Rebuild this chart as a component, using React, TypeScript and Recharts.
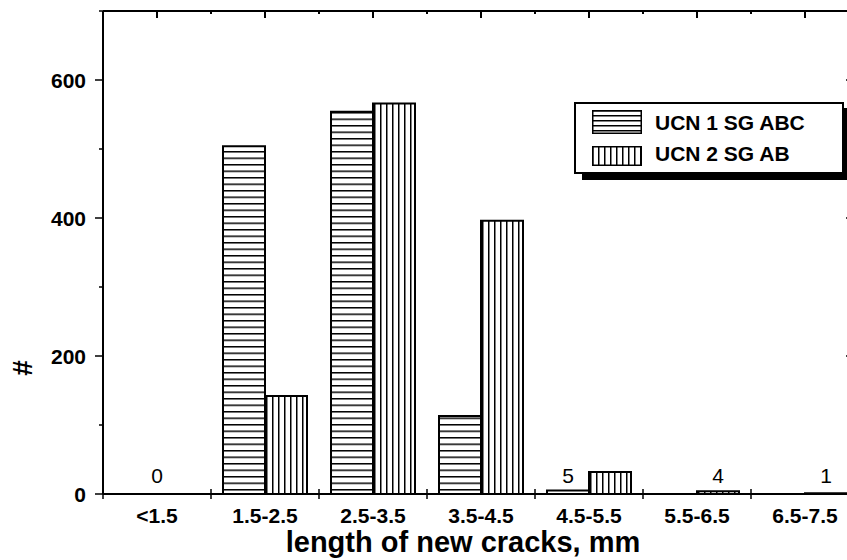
import React from "react";
import { BarChart, Bar, XAxis, YAxis, Legend, LabelList, Label } from "recharts";

const categories = ["<1.5", "1.5-2.5", "2.5-3.5", "3.5-4.5", "4.5-5.5", "5.5-6.5", "6.5-7.5"];
const ucn1Counts = [0, 504, 554, 113, 5, 0, 0];
const ucn2Counts = [0, 142, 566, 396, 32, 4, 1];
const groupNotes = ["0", "", "", "", "", "", ""];
const ucn1Notes = ["", "", "", "", "5", "", ""];
const ucn2Notes = ["", "", "", "", "", "4", "1"];
const seriesNames = ["UCN 1 SG ABC", "UCN 2 SG AB"];
const yTicks = [0, 100, 200, 300, 400, 500, 600, 700];
const yLabelTicks = [0, 200, 400, 600];
const xTitle = "length of new cracks, mm";
const yTitle = "#";

const data = categories.map((range, i) => ({
  range,
  ucn1: ucn1Counts[i],
  ucn2: ucn2Counts[i],
  n1: ucn1Notes[i],
  n2: ucn2Notes[i],
}));

const FONT = "'Liberation Sans', Arial, Helvetica, sans-serif";
const BLACK = "#000";

// layout constants
const CHART_W = 861;
const CHART_H = 552;
const MARGIN_TOP = 3;
const RIGHT_AXIS_W = 10;
const PLOT_TOP = MARGIN_TOP;
const PLOT_RIGHT = CHART_W - RIGHT_AXIS_W;

const bandHalf = (p: any) =>
  typeof p.payload.offset === "number" && p.payload.offset > 0 ? p.payload.offset : p.width / (2 * categories.length);

const LeftTick = (p: any) => {
  const v = p.payload.value;
  const major = yLabelTicks.includes(v);
  return (
    <g>
      <line x1={p.x - (major ? 8 : 4)} x2={p.x} y1={p.y} y2={p.y} stroke={BLACK} strokeWidth={1.5} />
      {major && <line x1={PLOT_RIGHT - 13} x2={PLOT_RIGHT} y1={p.y} y2={p.y} stroke={BLACK} strokeWidth={1.5} />}
      {major && (
        <text x={p.x - 17} y={p.y} dy="0.36em" textAnchor="end" fontFamily={FONT} fontWeight="bold" fontSize={21} fill={BLACK}>
          {v}
        </text>
      )}
    </g>
  );
};

const CatTick = (p: any) => {
  const idx = categories.indexOf(p.payload.value);
  const off = bandHalf(p);
  const axisY = p.y;
  const isLast = idx === categories.length - 1;
  return (
    <g>
      <line x1={p.x - off} x2={p.x - off} y1={axisY - 5} y2={axisY + 5} stroke={BLACK} strokeWidth={1.5} />
      {isLast && <line x1={p.x + off} x2={p.x + off} y1={axisY - 5} y2={axisY + 5} stroke={BLACK} strokeWidth={1.5} />}
      <text x={p.x} y={axisY + 14} dy="0.71em" textAnchor="middle" fontFamily={FONT} fontWeight="bold" fontSize={21} fill={BLACK}>
        {p.payload.value}
      </text>
      {groupNotes[idx] ? (
        <text x={p.x} y={axisY - 11.5} textAnchor="middle" fontFamily={FONT} fontSize={21} fill={BLACK}>
          {groupNotes[idx]}
        </text>
      ) : null}
    </g>
  );
};

// x title plus the top frame (line, long ticks at category centres, short ticks at boundaries)
const XTitleAndTopFrame = (p: any) => {
  const vb = p.viewBox;
  const band = vb.width / categories.length;
  return (
    <g>
      <line x1={vb.x} x2={vb.x + vb.width} y1={PLOT_TOP} y2={PLOT_TOP} stroke={BLACK} strokeWidth={2} />
      {categories.map((c, i) => (
        <g key={c}>
          <line x1={vb.x + (i + 0.5) * band} x2={vb.x + (i + 0.5) * band} y1={PLOT_TOP} y2={PLOT_TOP + 7} stroke={BLACK} strokeWidth={2} />
          <line x1={vb.x + (i + 1) * band} x2={vb.x + (i + 1) * band} y1={PLOT_TOP} y2={PLOT_TOP + 3} stroke={BLACK} strokeWidth={2} />
        </g>
      ))}
      <text x={vb.x + vb.width / 2 - 18} y={vb.y + 58} textAnchor="middle" fontFamily={FONT} fontWeight="bold" fontSize={29} fill={BLACK}>
        {xTitle}
      </text>
    </g>
  );
};

const noteContent = (p: any) => {
  if (!p.value) return null;
  const x = p.x + p.width / 2;
  const base = p.y + p.height;
  return (
    <text x={x} y={base - 11.5} textAnchor="middle" fontFamily={FONT} fontSize={21} fill={BLACK}>
      {p.value}
    </text>
  );
};

const Swatch = ({ kind, w, h }: { kind: "h" | "v"; w: number; h: number }) => (
  <svg width={w} height={h} style={{ display: "block" }}>
    <defs>
      <pattern id="hLinesL" patternUnits="userSpaceOnUse" width="8" height="5">
        <rect width="8" height="5" fill="#fff" />
        <line x1="0" x2="8" y1="0.75" y2="0.75" stroke={BLACK} strokeWidth="1.5" />
      </pattern>
      <pattern id="vLinesL" patternUnits="userSpaceOnUse" width="6" height="8">
        <rect width="6" height="8" fill="#fff" />
        <line x1="0.75" x2="0.75" y1="0" y2="8" stroke={BLACK} strokeWidth="1.5" />
      </pattern>
    </defs>
    <rect x={0.75} y={0.75} width={w - 1.5} height={h - 1.5} fill={kind === "h" ? "url(#hLinesL)" : "url(#vLinesL)"} stroke={BLACK} strokeWidth={1.5} />
  </svg>
);

const LegendBox = () => (
  <div
    style={{
      position: "relative",
      boxSizing: "border-box",
      width: 270,
      height: 72,
      border: "2px solid #000",
      background: "#fff",
      boxShadow: "8px 6px 0 0 #000",
      fontFamily: FONT,
      fontWeight: "bold",
      fontSize: 21,
      color: BLACK,
    }}
  >
    <div style={{ position: "absolute", left: 16, top: 6 }}>
      <Swatch kind="h" w={50} h={24} />
    </div>
    <div style={{ position: "absolute", left: 79, top: 7, lineHeight: "24px", whiteSpace: "nowrap" }}>{seriesNames[0]}</div>
    <div style={{ position: "absolute", left: 16, top: 42 }}>
      <Swatch kind="v" w={50} h={20} />
    </div>
    <div style={{ position: "absolute", left: 79, top: 38, lineHeight: "24px", whiteSpace: "nowrap" }}>{seriesNames[1]}</div>
  </div>
);

export default function App() {
  return (
    <div style={{ position: "absolute", left: 8, top: 8, width: 839, height: 552, overflow: "hidden", background: "#fff" }}>
      <BarChart
        width={CHART_W}
        height={CHART_H}
        data={data}
        margin={{ top: MARGIN_TOP, right: 0, bottom: 0, left: 0 }}
        barCategoryGap={12}
        barGap={0}
      >
        <defs>
          <pattern id="hLines" patternUnits="userSpaceOnUse" width="8" height="6.5">
            <rect width="8" height="6.5" fill="#fff" />
            <line x1="0" x2="8" y1="0.75" y2="0.75" stroke={BLACK} strokeWidth="1.5" />
          </pattern>
          <pattern id="vLines" patternUnits="userSpaceOnUse" width="6" height="8">
            <rect width="6" height="8" fill="#fff" />
            <line x1="0.75" x2="0.75" y1="0" y2="8" stroke={BLACK} strokeWidth="1.5" />
          </pattern>
        </defs>
        <XAxis
          xAxisId="cat"
          dataKey="range"
          height={66}
          interval={0}
          tickSize={0}
          tickMargin={0}
          tickLine={false}
          axisLine={{ stroke: BLACK, strokeWidth: 2 }}
          tick={<CatTick />}
        >
          <Label content={XTitleAndTopFrame} />
        </XAxis>
        <YAxis
          yAxisId="left"
          width={95}
          domain={[0, 700]}
          ticks={yTicks}
          interval={0}
          tickSize={0}
          tickMargin={0}
          tickLine={false}
          axisLine={{ stroke: BLACK, strokeWidth: 2 }}
          tick={<LeftTick />}
        >
          <Label
            content={() => (
              <text
                x={14}
                y={360}
                transform="rotate(-90 14 360)"
                textAnchor="middle"
                dy="0.36em"
                fontFamily={FONT}
                fontWeight="bold"
                fontSize={28}
                fill={BLACK}
              >
                {yTitle}
              </text>
            )}
          />
        </YAxis>
        <YAxis
          yAxisId="right"
          orientation="right"
          width={RIGHT_AXIS_W}
          domain={[0, 700]}
          tick={false}
          tickLine={false}
          axisLine={{ stroke: BLACK, strokeWidth: 2 }}
        />
        <Legend
          layout="vertical"
          align="center"
          verticalAlign="middle"
          content={() => <LegendBox />}
          wrapperStyle={{ left: 566, top: 94, width: "auto", height: "auto" }}
        />
        <Bar
          xAxisId="cat"
          yAxisId="left"
          dataKey="ucn1"
          name={seriesNames[0]}
          fill="url(#hLines)"
          stroke={BLACK}
          strokeWidth={2}
          isAnimationActive={false}
        >
          <LabelList dataKey="n1" content={noteContent} />
        </Bar>
        <Bar
          xAxisId="cat"
          yAxisId="left"
          dataKey="ucn2"
          name={seriesNames[1]}
          fill="url(#vLines)"
          stroke={BLACK}
          strokeWidth={2}
          isAnimationActive={false}
        >
          <LabelList dataKey="n2" content={noteContent} />
        </Bar>
      </BarChart>
    </div>
  );
}
